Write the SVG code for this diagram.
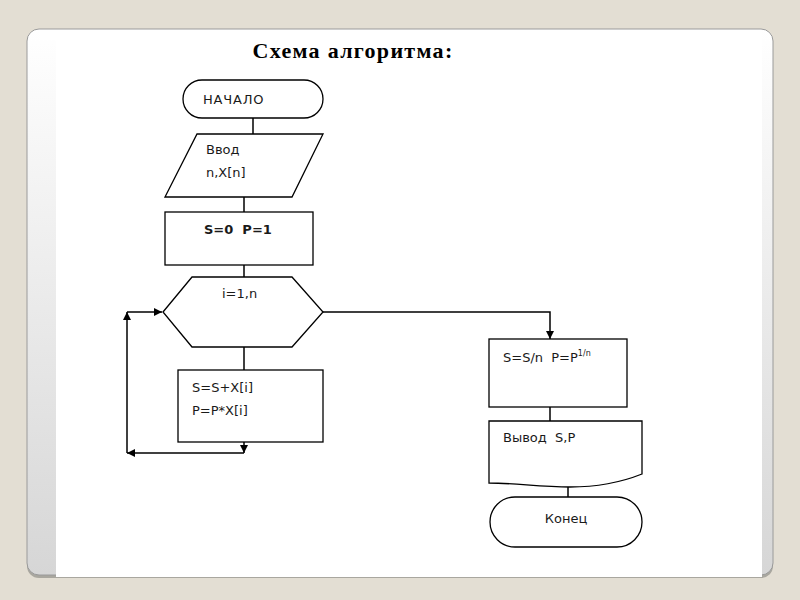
<svg xmlns="http://www.w3.org/2000/svg" width="800" height="600" viewBox="0 0 800 600">
  <defs>
    <linearGradient id="side" x1="0" y1="0" x2="0" y2="1">
      <stop offset="0" stop-color="#ffffff"/>
      <stop offset="1" stop-color="#d6d6d6"/>
    </linearGradient>
    <marker id="arr" viewBox="0 0 10 10" refX="10" refY="5" markerWidth="9" markerHeight="8" markerUnits="userSpaceOnUse" orient="auto">
      <path d="M0,0 L10,5 L0,10 Z" fill="#000"/>
    </marker>
    <style>
      .shape { fill: #fff; stroke: #000; stroke-width: 1.3; }
      .conn { fill: none; stroke: #000; stroke-width: 1.5; }
      .t { font-family: "DejaVu Sans", Verdana, sans-serif; font-size: 13px; fill: #1a1a1a; white-space: pre; }
    </style>
  </defs>

  <!-- background / slide card -->
  <rect x="0" y="0" width="800" height="600" fill="#e3ded3"/>
  <rect x="27" y="31" width="746" height="547" rx="12" fill="#a9a79f"/>
  <rect x="27" y="29" width="746" height="546" rx="12" fill="url(#side)" stroke="#9a9a9a" stroke-width="1"/>
  <rect x="56" y="30" width="706" height="547" fill="#ffffff"/>
  <rect x="40" y="30" width="716" height="10" fill="#ffffff"/>

  <!-- title -->
  <text x="353" y="58" text-anchor="middle" font-family="Liberation Serif, Times New Roman, serif" font-weight="bold" font-size="22" letter-spacing="1.3" fill="#000">Схема алгоритма:</text>

  <!-- connectors -->
  <g id="connectors">
    <path class="conn" d="M253,118 V134"/>
    <path class="conn" d="M244,197 V212"/>
    <path class="conn" d="M244,265 V277"/>
    <path class="conn" d="M244,347 V370"/>
    <path class="conn" d="M323,312 H550 V339" marker-end="url(#arr)"/>
    <path class="conn" d="M244,442 V453" marker-end="url(#arr)"/>
    <path class="conn" d="M244,453 H127" marker-end="url(#arr)"/>
    <path class="conn" d="M127,453 V312" marker-end="url(#arr)"/>
    <path class="conn" d="M127,312 H162" stroke-width="2.2" stroke="#333" marker-end="url(#arr)"/>
    <path class="conn" d="M550,407 V421" stroke-width="1"/>
    <path class="conn" d="M568,486 V497" stroke-width="1"/>
  </g>

  <g id="start">
    <rect class="shape" x="183" y="80" width="140" height="38" rx="19"/>
    <text class="t" x="203" y="104" font-family="Liberation Sans, Arial, sans-serif" font-size="14" letter-spacing="0.8">НАЧАЛО</text>
  </g>

  <g id="input">
    <polygon class="shape" points="197,134 323,134 292,197 165,197"/>
    <text class="t" x="206" y="154">Ввод</text>
    <text class="t" x="206" y="177">n,X[n]</text>
  </g>

  <g id="init">
    <rect class="shape" x="165" y="212" width="148" height="53"/>
    <text class="t" x="204" y="234" font-weight="bold">S=0  P=1</text>
  </g>

  <g id="loop">
    <polygon class="shape" points="163,312 192,277 292,277 323,312 292,347 192,347"/>
    <text class="t" x="222" y="298">i=1,n</text>
  </g>

  <g id="body">
    <rect class="shape" x="178" y="370" width="145" height="72"/>
    <text class="t" x="192" y="392">S=S+X[i]</text>
    <text class="t" x="192" y="415">P=P*X[i]</text>
  </g>

  <g id="calc">
    <rect class="shape" x="489" y="339" width="138" height="68"/>
    <text class="t" x="503" y="362">S=S/n  P=P<tspan font-size="8" dy="-6">1/n</tspan></text>
  </g>

  <g id="output">
    <path class="shape" d="M489,421 H642 V474 C622,482 600,487 570,487 C540,487 515,483 489,483 Z"/>
    <text class="t" x="503" y="442">Вывод  S,P</text>
  </g>

  <g id="end">
    <rect class="shape" x="490" y="497" width="152" height="50" rx="25"/>
    <text class="t" x="566" y="523" text-anchor="middle">Конец</text>
  </g>
</svg>
